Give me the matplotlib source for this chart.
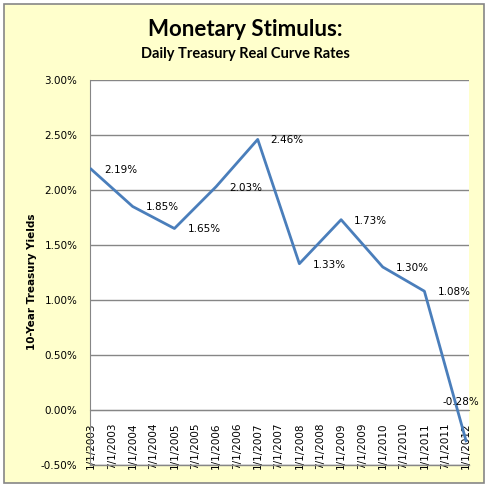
import datetime
import matplotlib
matplotlib.use("Agg")
import matplotlib.pyplot as plt
import matplotlib.dates as mdates
from matplotlib.patches import Rectangle

# data
years = [2003, 2004, 2005, 2006, 2007, 2008, 2009, 2010, 2011, 2012]
yields = [2.19, 1.85, 1.65, 2.03, 2.46, 1.33, 1.73, 1.30, 1.08, -0.28]
y_ticks = [-0.5, 0.0, 0.5, 1.0, 1.5, 2.0, 2.5, 3.0]
title = "Monetary Stimulus:"
subtitle = "Daily Treasury Real Curve Rates"
y_label = "10-Year Treasury Yields"

dates = [datetime.date(y, 1, 1) for y in years]
tick_dates = []
for y in range(2003, 2013):
    tick_dates.append(datetime.date(y, 1, 1))
    if y < 2012:
        tick_dates.append(datetime.date(y, 7, 1))
tick_labels = [f"{d.month}/{d.day}/{d.year}" for d in tick_dates]

line_color = "#4A7EBB"
grid_color = "#868686"
chart_bg = "#FFFFCC"
W, H = 488, 487

fig = plt.figure(figsize=(W / 100, H / 100), dpi=100)
fig.patch.set_facecolor("white")
fig.patches.append(Rectangle((4 / W, 1 - 483 / H), 480 / W, 479 / H,
                             transform=fig.transFigure, facecolor=chart_bg,
                             edgecolor=grid_color, linewidth=1.2, zorder=-5))

ax = fig.add_axes([90 / W, 1 - 465 / H, 379 / W, 385 / H])
ax.set_facecolor("white")

# move the x axis up to 0 first: set_position resets the ticks
for s in ["top", "right"]:
    ax.spines[s].set_visible(False)
ax.spines["left"].set_color(grid_color)
ax.spines["bottom"].set_color(grid_color)
ax.spines["bottom"].set_position(("data", 0))

ax.plot(dates, yields, color=line_color, linewidth=2.0, zorder=3)

offsets = [(13, -1)] * (len(yields) - 1) + [(-24, 39)]
for d, v, off in zip(dates, yields, offsets):
    ax.annotate(f"{v:.2f}%", (d, v), xytext=off, textcoords="offset pixels",
                ha="left", va="center", fontsize=7.5, color="black",
                annotation_clip=False, zorder=4)

ax.set_ylim(-0.5, 3.0)
ax.set_yticks(y_ticks)
ax.set_yticklabels([f"{v:.2f}%" for v in y_ticks])
ax.set_xlim(mdates.date2num(dates[0]) - 9, mdates.date2num(dates[-1]) + 26)
ax.set_xticks(mdates.date2num(tick_dates))
ax.set_xticklabels(tick_labels, rotation=90, va="top", ha="center")

ax.yaxis.grid(True, color=grid_color, linewidth=1.0)
ax.set_axisbelow(True)
ax.axhline(-0.5, color=grid_color, linewidth=1.0, clip_on=False, zorder=1)

ax.tick_params(axis="x", length=0, pad=9, labelsize=7.5)
ax.tick_params(axis="y", length=0, pad=9, labelsize=7.5)

fig.text(245 / W, 1 - 30 / H, title, ha="center", va="center",
         fontsize=16, fontweight="bold", family="Lato")
fig.text(245 / W, 1 - 54 / H, subtitle, ha="center", va="center",
         fontsize=10.5, fontweight="bold", family="Lato")
fig.text(32 / W, 1 - 282 / H, y_label, ha="center", va="center",
         rotation=90, fontsize=7.5, fontweight="bold")

fig.savefig("out.png", dpi=100, facecolor=fig.get_facecolor())
